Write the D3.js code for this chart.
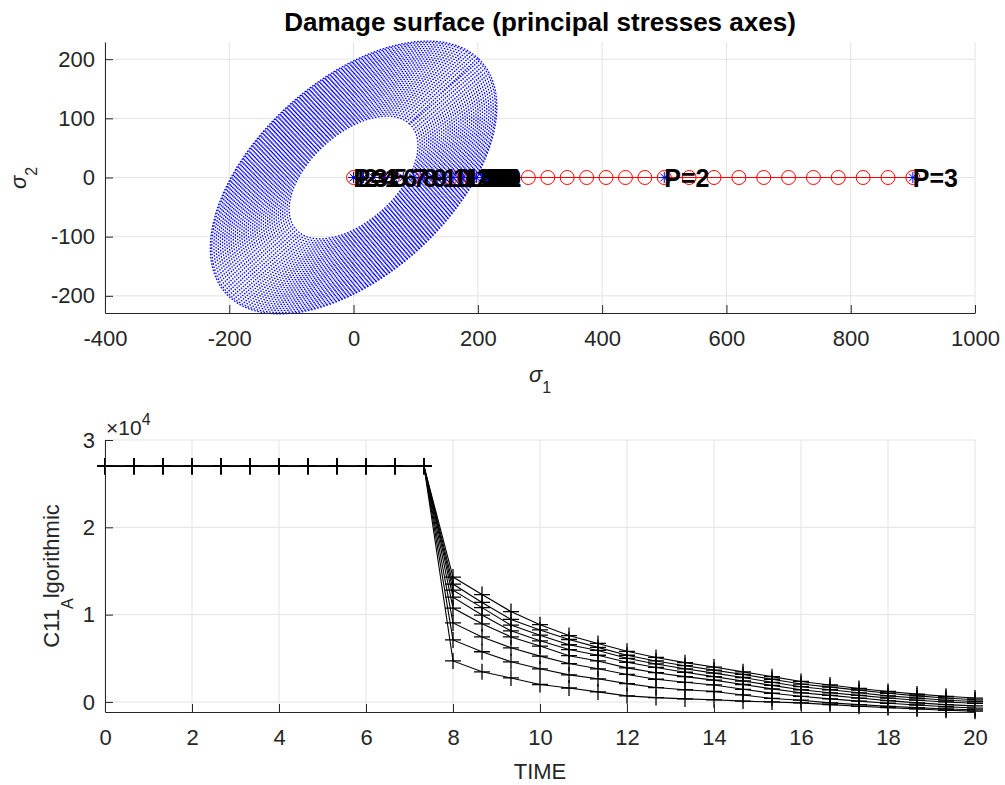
<!DOCTYPE html>
<html>
<head>
<meta charset="utf-8">
<script src="https://cdn.jsdelivr.net/npm/d3@7"></script>
<style>
  body { margin: 0; background: #fff; }
  svg text { font-family: Arial, "Liberation Sans", Helvetica, sans-serif; fill: #262626; }
</style>
</head>
<body>
<svg id="chart" width="1005" height="785"></svg>
<script>
// ---- top panel: damage surface in principal stress space ----
const sigma1Ticks = [-400, -200, 0, 200, 400, 600, 800, 1000];
const sigma2Ticks = [-200, -100, 0, 100, 200];
const sigma1Domain = [-400, 1000];
const sigma2Domain = [-229, 229];

// outer surface semi-axes (along the +45 / -45 directions) and the damage levels drawn
const surfaceSemiAxes = [284, 160];
const damageLevels = [0.45, 0.465, 0.48, 0.495, 0.51, 0.525, 0.54, 0.555, 0.57, 0.585,
  0.6, 0.615, 0.63, 0.645, 0.66, 0.675, 0.69, 0.705, 0.72, 0.735, 0.75, 0.765, 0.78,
  0.795, 0.81, 0.825, 0.84, 0.855, 0.87, 0.885, 0.9, 0.915, 0.93, 0.945, 0.96, 0.975, 0.99, 1.0];

// imposed load path (red, 'o')
const pathSigma1 = [0, 31.25, 62.5, 93.75, 125, 156.25, 187.5, 218.75, 250, 281.25, 312.5,
  343.75, 375, 406.25, 437.5, 468.75, 500, 540, 580, 620, 660, 700, 740, 780, 820, 860, 900];
const loadSigma1 = [0, 500, 900];
const loadLabels = ["P=1", "P=2", "P=3"];

// stress state at every time step, labelled with the step number
const stepSigma1 = [0, 16, 32, 48, 64, 80, 96, 112, 128, 144, 160, 176, 198, 208, 214, 218,
  221, 223, 224, 225, 225, 224, 223, 221, 219, 217, 215, 213, 211, 209, 207];
const stepLabels = ["1", "2", "3", "4", "5", "6", "7", "8", "9", "10", "11", "12", "13", "14",
  "15", "16", "17", "18", "19", "20", "21", "22", "23", "24", "25", "26", "27", "28", "29", "30", "31"];

// ---- bottom panel: C11 algorithmic vs time ----
const timeTicks = [0, 2, 4, 6, 8, 10, 12, 14, 16, 18, 20];
const c11Ticks = [0, 10000, 20000, 30000];
const c11Domain = [-1150, 30000];
const timeSteps = [0, 0.667, 1.333, 2, 2.667, 3.333, 4, 4.667, 5.333, 6, 6.667, 7.333, 8,
  8.667, 9.333, 10, 10.667, 11.333, 12, 12.667, 13.333, 14, 14.667, 15.333, 16, 16.667,
  17.333, 18, 18.667, 19.333, 20];
const c11Curves = [
  [27000, 27000, 27000, 27000, 27000, 27000, 27000, 27000, 27000, 27000, 27000, 27000,
   14300, 12300, 10350, 8850, 7600, 6700, 5800, 5100, 4500, 4000, 3450, 2900, 2350, 1950, 1550, 1200, 900, 650, 450],
  [27000, 27000, 27000, 27000, 27000, 27000, 27000, 27000, 27000, 27000, 27000, 27000,
   13500, 11400, 9450, 8250, 7150, 6250, 5350, 4700, 4150, 3650, 3150, 2600, 2050, 1700, 1350, 1000, 700, 450, 250],
  [27000, 27000, 27000, 27000, 27000, 27000, 27000, 27000, 27000, 27000, 27000, 27000,
   12800, 10800, 8800, 7650, 6550, 5900, 5000, 4350, 3800, 3300, 2800, 2250, 1750, 1400, 1050, 700, 450, 200, 50],
  [27000, 27000, 27000, 27000, 27000, 27000, 27000, 27000, 27000, 27000, 27000, 27000,
   12000, 9950, 8150, 7000, 6000, 5350, 4550, 3950, 3400, 2900, 2400, 1900, 1400, 1050, 750, 450, 200, 0, -150],
  [27000, 27000, 27000, 27000, 27000, 27000, 27000, 27000, 27000, 27000, 27000, 27000,
   10750, 8950, 7450, 6400, 5300, 4700, 3900, 3350, 2900, 2500, 2000, 1500, 1050, 750, 450, 150, -100, -300, -450],
  [27000, 27000, 27000, 27000, 27000, 27000, 27000, 27000, 27000, 27000, 27000, 27000,
   9050, 7450, 6200, 5250, 4400, 3800, 3150, 2600, 2250, 1950, 1450, 1000, 650, 350, 100, -150, -350, -550, -700],
  [27000, 27000, 27000, 27000, 27000, 27000, 27000, 27000, 27000, 27000, 27000, 27000,
   7100, 5750, 4600, 3800, 3100, 2650, 2100, 1650, 1400, 1200, 800, 400, 200, -100, -300, -500, -650, -800, -900],
  [27000, 27000, 27000, 27000, 27000, 27000, 27000, 27000, 27000, 27000, 27000, 27000,
   4700, 3450, 2750, 2000, 1600, 1150, 700, 500, 350, 250, 100, 0, -100, -300, -500, -650, -800, -950, -1050]
];

const svg = d3.select("#chart");
const axisColor = "#262626", gridColor = "#e3e3e3";
const tickFont = 22;

function styleAxis(g) {
  g.select(".domain").attr("stroke", axisColor);
  g.selectAll(".tick line").attr("stroke", axisColor);
  g.selectAll(".tick text").attr("fill", axisColor).style("font-size", tickFont + "px");
}
const plainNum = d => String(d);

// ================= TOP PANEL =================
const topBox = { left: 105, right: 975, top: 42, bottom: 313 };
const x1 = d3.scaleLinear().domain(sigma1Domain).range([topBox.left, topBox.right]);
const y1 = d3.scaleLinear().domain(sigma2Domain).range([topBox.bottom, topBox.top]);

const g1 = svg.append("g");
// grid
g1.selectAll("line.gx").data(sigma1Ticks).join("line")
  .attr("class", "gx")
  .attr("x1", d => x1(d)).attr("x2", d => x1(d))
  .attr("y1", topBox.top).attr("y2", topBox.bottom)
  .attr("stroke", gridColor);
g1.selectAll("line.gy").data(sigma2Ticks).join("line")
  .attr("class", "gy")
  .attr("x1", topBox.left).attr("x2", topBox.right)
  .attr("y1", d => y1(d)).attr("y2", d => y1(d))
  .attr("stroke", gridColor);

// damage surfaces: dotted ellipses rotated 45 degrees
const angles = d3.range(0, 2 * Math.PI, Math.PI / 160);
const [sa, sb] = surfaceSemiAxes;
const ellipseLine = d3.line()
  .x(p => x1(p[0])).y(p => y1(p[1]))
  .curve(d3.curveLinearClosed);
g1.append("g").selectAll("path")
  .data(damageLevels).join("path")
  .attr("d", s => ellipseLine(angles.map(t => [
    s * (sa * Math.cos(t) - sb * Math.sin(t)) / Math.SQRT2,
    s * (sa * Math.cos(t) + sb * Math.sin(t)) / Math.SQRT2
  ])))
  .attr("fill", "none")
  .attr("stroke", "#0000ff")
  .attr("stroke-width", 1.3)
  .attr("stroke-dasharray", "1.6 1.6");

// load path
g1.append("line")
  .attr("x1", x1(d3.min(pathSigma1))).attr("x2", x1(d3.max(pathSigma1)))
  .attr("y1", y1(0)).attr("y2", y1(0))
  .attr("stroke", "#ff0000");
g1.append("g").selectAll("circle")
  .data(pathSigma1).join("circle")
  .attr("cx", d => x1(d)).attr("cy", y1(0)).attr("r", 7)
  .attr("fill", "none").attr("stroke", "#ff0000");

// blue asterisks at stress states and load points
const asterisk = "M-5.5,0H5.5M0,-5.5V5.5M-3.9,-3.9L3.9,3.9M-3.9,3.9L3.9,-3.9";
g1.append("g").selectAll("path")
  .data(stepSigma1.concat(loadSigma1)).join("path")
  .attr("d", asterisk)
  .attr("transform", d => `translate(${x1(d)},${y1(0)})`)
  .attr("fill", "none").attr("stroke", "#0000ff");

// step labels and load point labels
const labelFont = "bold 25px Arial, 'Liberation Sans', Helvetica, sans-serif";
g1.append("g").selectAll("text")
  .data(stepSigma1).join("text")
  .attr("x", d => x1(d)).attr("y", y1(0))
  .attr("dominant-baseline", "central")
  .style("font", labelFont).style("fill", "#000")
  .text((d, i) => stepLabels[i]);
g1.append("g").selectAll("text")
  .data(loadSigma1).join("text")
  .attr("x", d => x1(d)).attr("y", y1(0))
  .attr("dominant-baseline", "central")
  .style("font", labelFont).style("fill", "#000")
  .text((d, i) => loadLabels[i]);

// axes
g1.append("g")
  .attr("transform", `translate(0,${topBox.bottom})`)
  .call(d3.axisBottom(x1).tickValues(sigma1Ticks).tickFormat(plainNum).tickSizeInner(-8).tickSizeOuter(0).tickPadding(17))
  .call(styleAxis);
g1.append("g")
  .attr("transform", `translate(${topBox.left},0)`)
  .call(d3.axisLeft(y1).tickValues(sigma2Ticks).tickFormat(plainNum).tickSizeInner(-8).tickSizeOuter(0).tickPadding(10))
  .call(styleAxis);

// title and labels
svg.append("text")
  .attr("x", (topBox.left + topBox.right) / 2).attr("y", 31)
  .attr("text-anchor", "middle")
  .style("font-size", "26px").style("font-weight", "bold").style("fill", "#000")
  .text("Damage surface (principal stresses axes)");

const s1Label = svg.append("text")
  .attr("x", 540).attr("y", 382)
  .attr("text-anchor", "middle")
  .style("font-size", "22px");
s1Label.append("tspan").style("font-style", "italic").text("σ");
s1Label.append("tspan").attr("dy", 11).style("font-size", "16px").text("1");

const s2Label = svg.append("text")
  .attr("transform", "translate(26,178) rotate(-90)")
  .attr("text-anchor", "middle")
  .style("font-size", "22px");
s2Label.append("tspan").style("font-style", "italic").text("σ");
s2Label.append("tspan").attr("dy", 11).style("font-size", "16px").text("2");

// ================= BOTTOM PANEL =================
const botBox = { left: 105, right: 975, top: 440, bottom: 712 };
const x2 = d3.scaleLinear().domain([timeTicks[0], timeTicks[timeTicks.length - 1]]).range([botBox.left, botBox.right]);
const y2 = d3.scaleLinear().domain(c11Domain).range([botBox.bottom, botBox.top]);

const g2 = svg.append("g");
g2.selectAll("line.gx").data(timeTicks).join("line")
  .attr("class", "gx")
  .attr("x1", d => x2(d)).attr("x2", d => x2(d))
  .attr("y1", botBox.top).attr("y2", botBox.bottom)
  .attr("stroke", gridColor);
g2.selectAll("line.gy").data(c11Ticks).join("line")
  .attr("class", "gy")
  .attr("x1", botBox.left).attr("x2", botBox.right)
  .attr("y1", d => y2(d)).attr("y2", d => y2(d))
  .attr("stroke", gridColor);

const c11Line = d3.line()
  .x((d, i) => x2(timeSteps[i]))
  .y(d => y2(d));
g2.append("g").selectAll("path")
  .data(c11Curves).join("path")
  .attr("d", c11Line)
  .attr("fill", "none").attr("stroke", "#000").attr("stroke-width", 1.1);

const plus = "M-8,0H8M0,-8V8";
g2.append("g").selectAll("g")
  .data(c11Curves).join("g")
  .selectAll("path")
  .data(d => d).join("path")
  .attr("d", plus)
  .attr("transform", (d, i) => `translate(${x2(timeSteps[i])},${y2(d)})`)
  .attr("fill", "none").attr("stroke", "#000").attr("stroke-width", 1.3);

g2.append("g")
  .attr("transform", `translate(0,${botBox.bottom})`)
  .call(d3.axisBottom(x2).tickValues(timeTicks).tickFormat(plainNum).tickSizeInner(-8).tickSizeOuter(0).tickPadding(17))
  .call(styleAxis);
g2.append("g")
  .attr("transform", `translate(${botBox.left},0)`)
  .call(d3.axisLeft(y2).tickValues(c11Ticks).tickFormat(d => String(d / 10000)).tickSizeInner(-8).tickSizeOuter(0).tickPadding(10))
  .call(styleAxis);

// exponent marker
const expLabel = svg.append("text")
  .attr("x", 106).attr("y", 435)
  .style("font-size", "21px");
expLabel.append("tspan").text("×10");
expLabel.append("tspan").attr("dy", -10).style("font-size", "16px").text("4");

svg.append("text")
  .attr("x", 540).attr("y", 779)
  .attr("text-anchor", "middle")
  .style("font-size", "22px")
  .text("TIME");

const cLabel = svg.append("text")
  .attr("transform", "translate(59,576) rotate(-90)")
  .attr("text-anchor", "middle")
  .style("font-size", "22px");
cLabel.append("tspan").text("C11");
cLabel.append("tspan").attr("dy", 14).style("font-size", "16px").text("A");
cLabel.append("tspan").attr("dy", -14).text("lgorithmic");
</script>
</body>
</html>
